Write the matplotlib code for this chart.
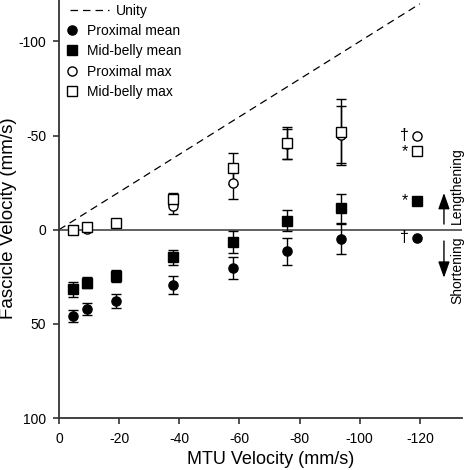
import numpy as np
import matplotlib.pyplot as plt
from matplotlib.lines import Line2D

plt.rcParams['font.family'] = ['Liberation Sans', 'DejaVu Sans']
plt.rcParams['axes.unicode_minus'] = False

# MTU velocity bins (mm/s); last bin has no error bars
mtu = [-4.7, -9.4, -18.9, -38.0, -57.8, -75.7, -93.8, -119.2]

prox_mean = [45.7, 42.2, 37.9, 29.4, 20.3, 11.5, 4.9, 4.2]
prox_mean_err = [3.2, 3.3, 3.5, 5.0, 6.0, 7.0, 8.0, np.nan]
mid_mean = [31.6, 28.2, 24.7, 14.7, 6.5, -4.8, -11.5, -15.4]
mid_mean_err = [3.9, 3.0, 3.2, 3.9, 6.0, 5.7, 7.7, np.nan]
prox_max = [0.0, -0.3, -3.4, -12.8, -24.8, -45.5, -50.5, -50.0]
prox_max_err = [0.5, 0.5, 0.5, 4.5, 8.3, 8.0, 15.0, np.nan]
mid_max = [0.0, -1.4, -3.7, -16.3, -32.6, -46.0, -52.0, -41.7]
mid_max_err = [0.5, 0.5, 0.5, 3.0, 8.2, 8.5, 17.4, np.nan]

# significance symbols next to the last bin
sig = {'prox_mean': '\u2020', 'mid_mean': '*', 'prox_max': '\u2020', 'mid_max': '*'}

unity_x = [0, -120]

fig = plt.figure(figsize=(4.68, 4.70), dpi=100)
ax = fig.add_axes([59/468, 52/470, 403/468, 418/470])

ax.plot(unity_x, unity_x, color='black', lw=0.9, dashes=(6, 4), zorder=1)
ax.axhline(0, color='#555555', lw=1.3, zorder=1)

eb = dict(capsize=3.6, elinewidth=1.0, capthick=1.0, ecolor='black', ms=6.6,
          markeredgecolor='black', markeredgewidth=1.0, ls='none', zorder=3)
ax.errorbar(mtu, prox_max, yerr=prox_max_err, fmt='o', mfc='white', **eb)
ax.errorbar(mtu, mid_max, yerr=mid_max_err, fmt='s', mfc='white', **eb)
ax.errorbar(mtu, prox_mean, yerr=prox_mean_err, fmt='o', mfc='black', **eb)
ax.errorbar(mtu, mid_mean, yerr=mid_mean_err, fmt='s', mfc='black', **eb)

for key, vals in [('prox_mean', prox_mean), ('mid_mean', mid_mean),
                  ('prox_max', prox_max), ('mid_max', mid_max)]:
    ax.text(mtu[-1] + 4.2, vals[-1], sig[key], ha='center', va='center', fontsize=11.5)

# direction arrows
ax.annotate('', xy=(-128, -19.5), xytext=(-128, -3),
            arrowprops=dict(arrowstyle='-|>,head_length=0.7,head_width=0.25',
                            color='black', lw=1.0, mutation_scale=14,
                            shrinkA=0, shrinkB=0))
ax.annotate('', xy=(-128, 25.5), xytext=(-128, 6),
            arrowprops=dict(arrowstyle='-|>,head_length=0.7,head_width=0.25',
                            color='black', lw=1.0, mutation_scale=14,
                            shrinkA=0, shrinkB=0))
ax.text(-132.3, -23.5, 'Lengthening', rotation=90, ha='center', va='center', fontsize=10)
ax.text(-132.3, 21.5, 'Shortening', rotation=90, ha='center', va='center', fontsize=10)

ax.set_xlim(0, -134)
ax.set_ylim(100, -122)
ax.set_xticks([0, -20, -40, -60, -80, -100, -120])
ax.set_yticks([-100, -50, 0, 50, 100])
ax.tick_params(labelsize=10, length=4.3, width=1.2, color='#333333')
ax.tick_params(axis='x', pad=5.6)
ax.tick_params(axis='y', pad=5.0)
for s in ['top', 'right']:
    ax.spines[s].set_visible(False)
for s in ['left', 'bottom']:
    ax.spines[s].set_linewidth(1.3)
    ax.spines[s].set_color('#333333')

ax.set_xlabel('MTU Velocity (mm/s)', fontsize=13)
ax.set_ylabel('Fascicle Velocity (mm/s)', fontsize=13.5)
ax.xaxis.set_label_coords(0.526, -0.079)
ax.yaxis.set_label_coords(-0.104, 0.477)

h_unity = [Line2D([], [], color='black', lw=0.9, dashes=(6, 4))]
leg1 = ax.legend(h_unity, ['Unity'], loc='upper left', bbox_to_anchor=(0.027, 0.99),
                 frameon=False, fontsize=10, handlelength=2.8, handletextpad=0.5,
                 borderpad=0, borderaxespad=0)
ax.add_artist(leg1)
h_marks = [Line2D([], [], ls='none', marker='o', mfc='black', mec='black', ms=6.6),
           Line2D([], [], ls='none', marker='s', mfc='black', mec='black', ms=6.6),
           Line2D([], [], ls='none', marker='o', mfc='white', mec='black', ms=6.6),
           Line2D([], [], ls='none', marker='s', mfc='white', mec='black', ms=6.6)]
ax.legend(h_marks, ['Proximal mean', 'Mid-belly mean', 'Proximal max', 'Mid-belly max'],
          loc='upper left', bbox_to_anchor=(0.016, 0.943), frameon=False, fontsize=10,
          handlelength=1.0, handletextpad=0.55, labelspacing=0.46, borderpad=0,
          borderaxespad=0)

fig.savefig('out.png', dpi=100)
